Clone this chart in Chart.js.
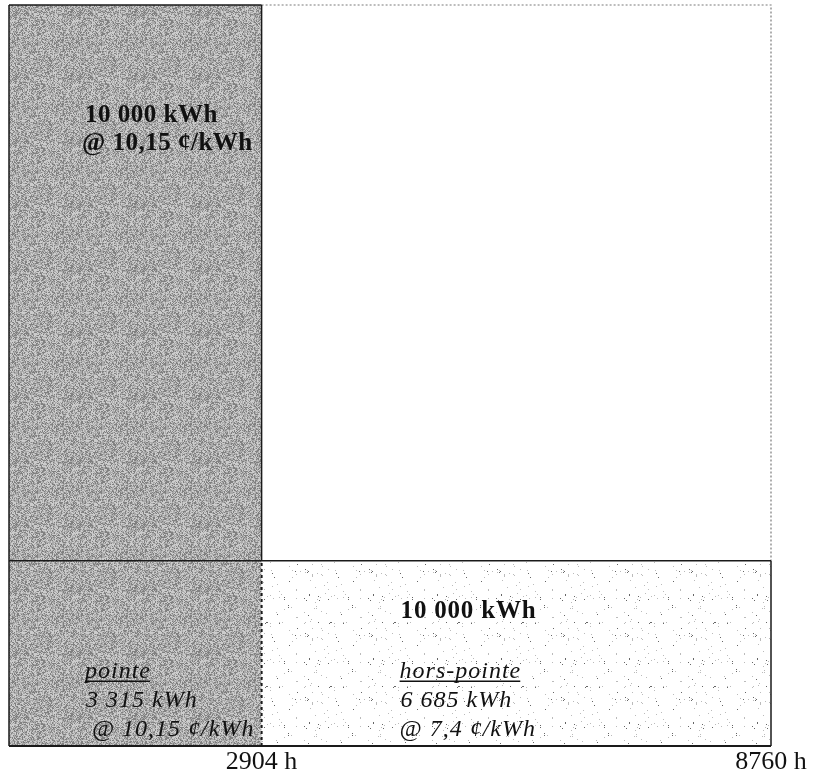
<!DOCTYPE html>
<html>
<head>
<meta charset="utf-8">
<script src="https://cdn.jsdelivr.net/npm/chart.js@4/dist/chart.umd.min.js"></script>
<style>
  html, body { margin: 0; padding: 0; background: #ffffff; }
  canvas { display: block; }
</style>
</head>
<body>
<canvas id="c" width="816" height="777"></canvas>
<script>
// ---- Data ----
const yearHours   = 8760;          // full year (h)
const peakHours   = 2904;          // peak period boundary (h)
const tickHours   = [2904, 8760];  // x tick labels
const columnLevel = 4;             // relative height of the peak column
const bandLevel   = 1;             // relative height of the flat band
const topLabel    = ["10 000 kWh", "@ 10,15 \u00a2/kWh"];
const bandLabel   = "10 000 kWh";
const peakLabel   = ["pointe", "3 315 kWh", "@ 10,15 \u00a2/kWh"];
const offLabel    = ["hors-pointe", "6 685 kWh", "@ 7,4 \u00a2/kWh"];

// ---- Deterministic textures ----
function hash(i, j) {
  let n = Math.imul(i, 374761393) + Math.imul(j, 668265263);
  n = Math.imul(n ^ (n >>> 13), 1274126177);
  return ((n ^ (n >>> 16)) >>> 0) / 4294967296;
}
function makeGrayPattern() {
  const s = 64, cv = document.createElement('canvas');
  cv.width = s; cv.height = s;
  const cx = cv.getContext('2d'), img = cx.createImageData(s, s);
  for (let j = 0; j < s; j++) for (let i = 0; i < s; i++) {
    const r = hash(i + 7, j + 13);
    const v = r < 0.30 ? 0x80 : (r < 0.68 ? 0xaa : 0xcc);
    const k = (j * s + i) * 4;
    img.data[k] = img.data[k + 1] = img.data[k + 2] = v; img.data[k + 3] = 255;
  }
  cx.putImageData(img, 0, 0);
  return cx.createPattern(cv, 'repeat');
}
function makeDotPattern() {
  const s = 64, cv = document.createElement('canvas');
  cv.width = s; cv.height = s;
  const cx = cv.getContext('2d'), img = cx.createImageData(s, s);
  for (let j = 0; j < s; j++) for (let i = 0; i < s; i++) {
    const r = hash(i + 101, j + 57);
    let v = 255;
    if (r < 0.005) v = 0x66; else if (r < 0.02) v = 0xbb;
    const k = (j * s + i) * 4;
    img.data[k] = img.data[k + 1] = img.data[k + 2] = v; img.data[k + 3] = 255;
  }
  cx.putImageData(img, 0, 0);
  return cx.createPattern(cv, 'repeat');
}
const grayPat = makeGrayPattern();
const dotPat  = makeDotPattern();

const dark = '#1a1a1a';
function seg(points, opts) {
  return Object.assign({
    data: points, showLine: true, fill: false, pointRadius: 0,
    borderColor: dark, borderWidth: 1.5, clip: 6, tension: 0
  }, opts || {});
}

// ---- Text plugin ----
const labelsPlugin = {
  id: 'labels',
  afterDatasetsDraw(chart) {
    const ctx = chart.ctx, xs = chart.scales.x, ys = chart.scales.y;
    const x0 = xs.getPixelForValue(0);
    const xp = xs.getPixelForValue(peakHours);
    const yTop = ys.getPixelForValue(columnLevel);
    const yBand = ys.getPixelForValue(bandLevel);
    ctx.save();
    ctx.fillStyle = '#111';
    ctx.strokeStyle = '#111';
    ctx.textBaseline = 'alphabetic';
    ctx.textAlign = 'left';
    // top column label
    ctx.font = 'bold 25px "Liberation Serif", serif';
    ctx.letterSpacing = '0.5px';
    ctx.fillText(topLabel[0], x0 + 76, yTop + 117);
    ctx.fillText(topLabel[1], x0 + 73, yTop + 145);
    // band total
    ctx.letterSpacing = '0.8px';
    ctx.fillText(bandLabel, xp + 139, yBand + 57);
    // italic sub-labels
    ctx.font = 'italic 24px "Liberation Serif", serif';
    ctx.letterSpacing = '1px';
    const drawBlock = (lines, x, dx3) => {
      const b = yBand + 117;
      ctx.fillText(lines[0], x, b);
      const w = ctx.measureText(lines[0]).width;
      ctx.lineWidth = 1.3;
      ctx.beginPath(); ctx.moveTo(x, b + 3.5); ctx.lineTo(x + w - 1, b + 3.5); ctx.stroke();
      ctx.fillText(lines[1], x + 1, b + 29);
      ctx.fillText(lines[2], x + dx3, b + 58);
    };
    drawBlock(peakLabel, x0 + 76, 7);
    drawBlock(offLabel, xp + 138, 0);
    ctx.restore();
  }
};

new Chart(document.getElementById('c'), {
  type: 'line',
  data: {
    datasets: [
      // outlines (drawn on top: first datasets are drawn last)
      seg([{x: 0, y: 0}, {x: 0, y: columnLevel}]),
      seg([{x: 0, y: columnLevel}, {x: peakHours, y: columnLevel}]),
      seg([{x: peakHours, y: bandLevel}, {x: peakHours, y: columnLevel}]),
      seg([{x: peakHours, y: 0}, {x: peakHours, y: bandLevel}], {borderDash: [3, 3], borderWidth: 2}),
      seg([{x: 0, y: bandLevel}, {x: yearHours, y: bandLevel}]),
      seg([{x: yearHours, y: 0}, {x: yearHours, y: bandLevel}]),
      seg([{x: 0, y: 0}, {x: yearHours, y: 0}], {borderWidth: 2}),
      seg([{x: peakHours, y: columnLevel}, {x: yearHours, y: columnLevel}, {x: yearHours, y: bandLevel}],
          {borderColor: '#7a7a7a', borderWidth: 1.2, borderDash: [2, 2]}),
      // filled regions
      {
        data: [{x: 0, y: columnLevel}, {x: peakHours, y: columnLevel}],
        showLine: true, fill: 'origin', pointRadius: 0, borderWidth: 0,
        borderColor: 'rgba(0,0,0,0)', backgroundColor: grayPat, tension: 0
      },
      {
        data: [{x: peakHours, y: bandLevel}, {x: yearHours, y: bandLevel}],
        showLine: true, fill: 'origin', pointRadius: 0, borderWidth: 0,
        borderColor: 'rgba(0,0,0,0)', backgroundColor: dotPat, tension: 0
      }
    ]
  },
  options: {
    responsive: false,
    animation: false,
    events: [],
    layout: { padding: { left: 9, right: 45, top: 5, bottom: 0 } },
    plugins: { legend: { display: false }, tooltip: { enabled: false } },
    scales: {
      x: {
        type: 'linear', min: 0, max: yearHours,
        grid: { display: false, drawTicks: false },
        border: { display: false },
        afterBuildTicks: (scale) => { scale.ticks = tickHours.map(v => ({ value: v })); },
        afterFit: (scale) => { scale.height = 31; },
        ticks: {
          autoSkip: false, maxRotation: 0, padding: 1,
          color: '#111',
          font: { family: '"Liberation Serif", serif', size: 26 },
          callback: (v) => v + ' h'
        }
      },
      y: {
        type: 'linear', min: 0, max: columnLevel, display: false
      }
    }
  },
  plugins: [labelsPlugin]
});
</script>
</body>
</html>
